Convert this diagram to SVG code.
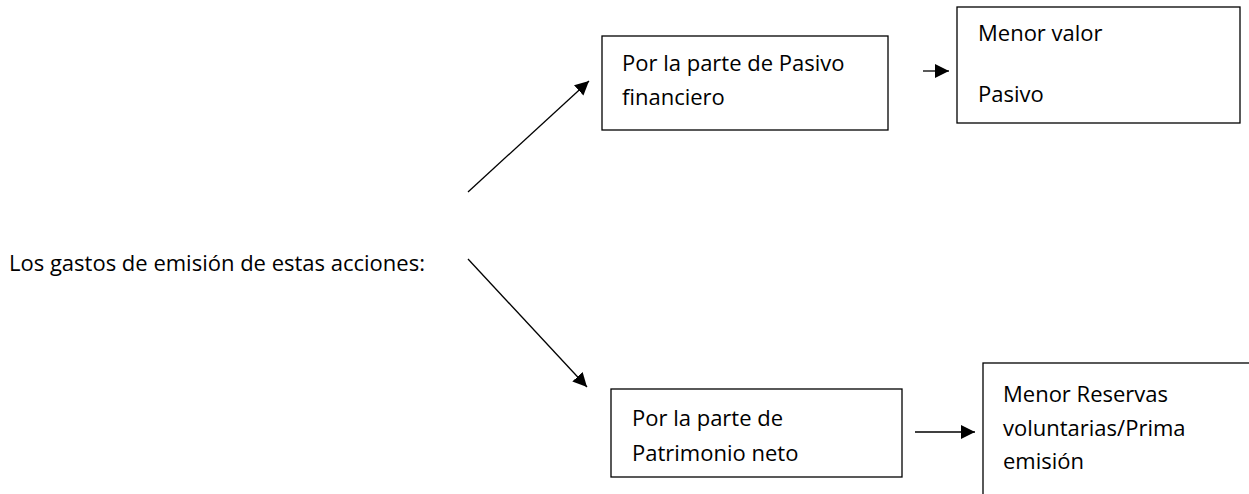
<svg xmlns="http://www.w3.org/2000/svg" width="1249" height="494" viewBox="0 0 1249 494">
<style>
text { font-family: "Open Sans", "Noto Sans", "Liberation Sans", sans-serif; font-size: 22px; fill: #000; }
.box { fill: #fff; stroke: #000; stroke-width: 1.3; }
.conn { stroke: #000; stroke-width: 1.3; fill: none; marker-end: url(#ah); }
</style>
<defs>
<marker id="ah" viewBox="0 0 10 10" refX="10" refY="5" markerWidth="14" markerHeight="14" markerUnits="userSpaceOnUse" orient="auto">
<path d="M0,0 L10,5 L0,10 z" fill="#000"/>
</marker>
</defs>
<rect width="1249" height="494" fill="#fff"/>
<g id="root">
<text x="9" y="271">Los gastos de emisión de estas acciones:</text>
</g>
<g id="pasivo">
<rect class="box" x="602" y="36" width="286" height="94"/>
<text x="622" y="71">Por la parte de Pasivo</text>
<text x="622" y="105">financiero</text>
</g>
<g id="menor-valor">
<rect class="box" x="957" y="7" width="283" height="116"/>
<text x="978" y="41">Menor valor</text>
<text x="978" y="102">Pasivo</text>
</g>
<g id="patrimonio">
<rect class="box" x="611" y="389" width="291" height="88"/>
<text x="632" y="426">Por la parte de</text>
<text x="632" y="461">Patrimonio neto</text>
</g>
<g id="reservas">
<rect class="box" x="983" y="363" width="300" height="200"/>
<text x="1003" y="402">Menor Reservas</text>
<text x="1003" y="436">voluntarias/Prima</text>
<text x="1003" y="469">emisión</text>
</g>
<g id="connectors">
<line class="conn" x1="468" y1="192" x2="589" y2="81"/>
<line class="conn" x1="468" y1="259" x2="587" y2="387"/>
<line class="conn" x1="923" y1="71" x2="949" y2="71"/>
<line class="conn" x1="915" y1="432" x2="975" y2="432"/>
</g>
</svg>
